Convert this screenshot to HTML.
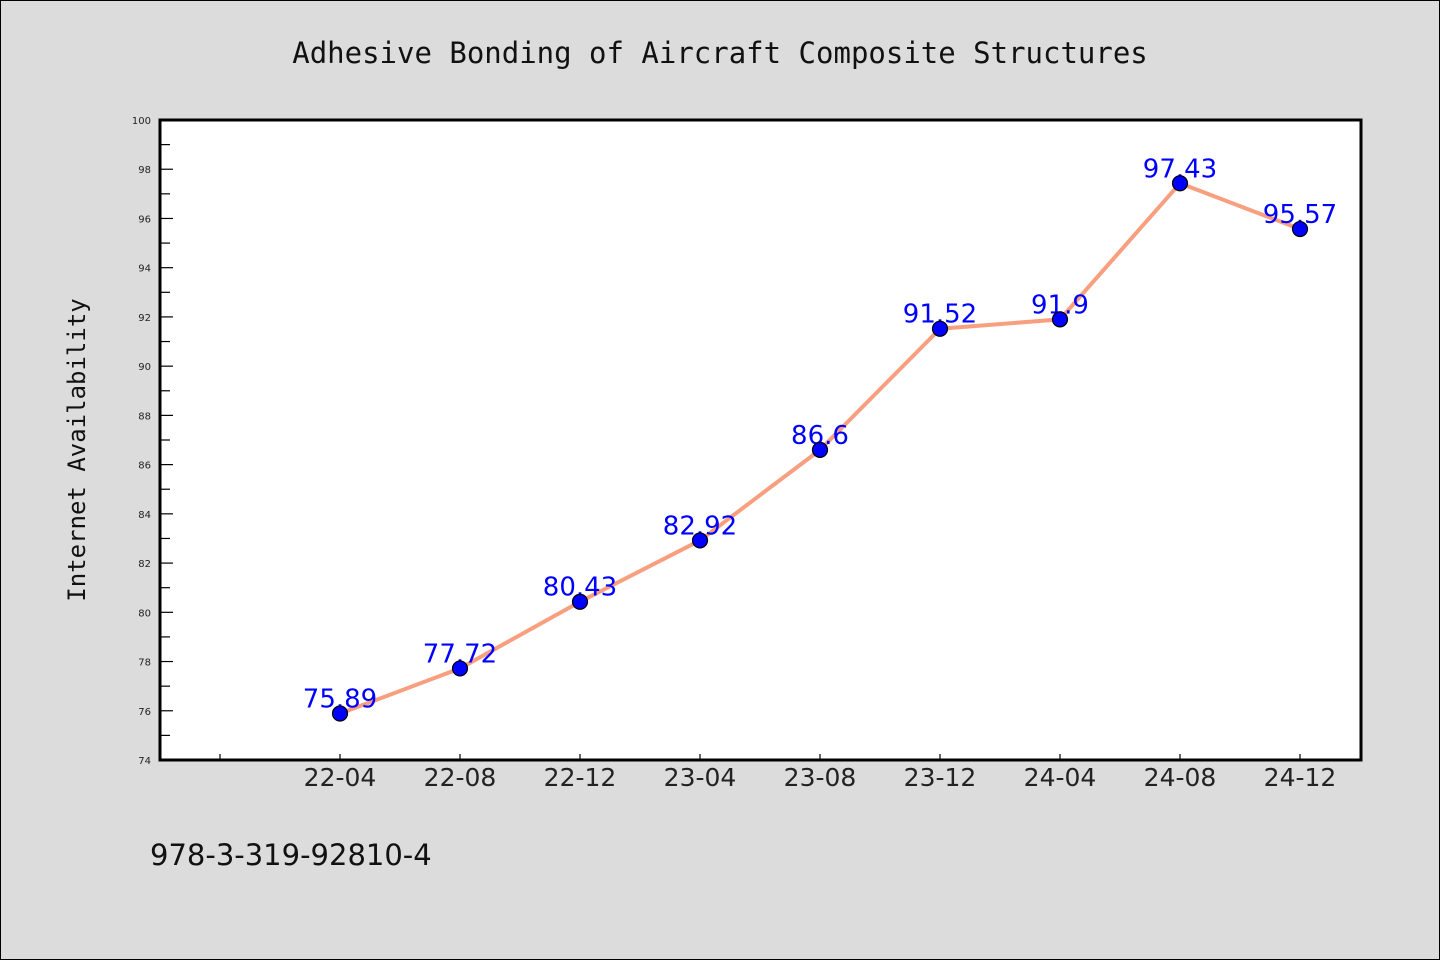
<!DOCTYPE html>
<html><head><meta charset="utf-8"><style>
html,body{margin:0;padding:0;background:#dcdcdc;}
svg{display:block;}
</style></head><body>
<svg width="1440" height="960" viewBox="0 0 1440 960" xmlns="http://www.w3.org/2000/svg">
<rect x="0.5" y="0.5" width="1439" height="959" fill="#dcdcdc" stroke="#000" stroke-width="1"/>
<text x="720" y="63" text-anchor="middle" font-family="'DejaVu Sans Mono','Liberation Mono',monospace" font-size="29" fill="#111">Adhesive Bonding of Aircraft Composite Structures</text>
<rect x="160" y="120" width="1201" height="640" fill="#fff"/>
<g id="yaxis"></g>
<g id="xaxis"></g>
<g id="series"></g>
<rect x="160" y="120" width="1201" height="640" fill="none" stroke="#000" stroke-width="3"/>
<text transform="translate(85,450) rotate(-90)" text-anchor="middle" font-family="'DejaVu Sans Mono','Liberation Mono',monospace" font-size="24" fill="#111">Internet Availability</text>
<text x="150" y="865" font-family="'DejaVu Sans','Liberation Sans',sans-serif" font-size="29" fill="#111">978-3-319-92810-4</text>
</svg>
<script>
const categories = ["22-04","22-08","22-12","23-04","23-08","23-12","24-04","24-08","24-12"];
const values = [75.89,77.72,80.43,82.92,86.6,91.52,91.9,97.43,95.57];
const yTicks = [74,76,78,80,82,84,86,88,90,92,94,96,98,100];
const yMin = 74, yMax = 100;
const NS = "http://www.w3.org/2000/svg";
function y(v){ return 760 - (v - yMin) / (yMax - yMin) * 640; }
function x(i){ return 340 + 120 * i; }
function mk(tag, attrs, parent){ const e=document.createElementNS(NS,tag); for(const k in attrs) e.setAttribute(k,attrs[k]); parent.appendChild(e); return e; }
const ya=document.getElementById('yaxis'), xa=document.getElementById('xaxis'), sg=document.getElementById('series');
yTicks.forEach((t,k)=>{
  const l=mk('line',{x1:160,x2:173,y1:y(t),y2:y(t),stroke:'#000','stroke-width':1.2},ya);
  
  
  const tx=mk('text',{x:151,y:y(t)+4,'text-anchor':'end','font-family':"'DejaVu Sans','Liberation Sans',sans-serif",'font-size':10,fill:'#222'},ya);
  tx.textContent=t;
  
  
  if(k<yTicks.length-1){
    const m=(t+yTicks[k+1])/2;
    const ml=mk('line',{x1:160,x2:170,y1:y(m),y2:y(m),stroke:'#000','stroke-width':1.2},ya);
    
    
  }
});
const t0=mk('line',{x1:x(-1),x2:x(-1),y1:760,y2:754,stroke:'#000','stroke-width':1.2},xa);


categories.forEach((c,i)=>{
  const l=mk('line',{x1:x(i),x2:x(i),y1:760,y2:754,stroke:'#000','stroke-width':1.2},xa);
  
  
  const tx=mk('text',{x:x(i),y:786,'text-anchor':'middle','font-family':"'DejaVu Sans','Liberation Sans',sans-serif",'font-size':25,fill:'#222'},xa);
  tx.textContent=c;
  
  
});
const pts=values.map((v,i)=>x(i)+','+y(v)).join(' ');
const pl=mk('polyline',{points:pts,fill:'none',stroke:'#f89f7f','stroke-width':4,'stroke-linejoin':'round'},sg);


values.forEach((v,i)=>{
  const tx=mk('text',{x:x(i),y:y(v)-6,'text-anchor':'middle','font-family':"'DejaVu Sans','Liberation Sans',sans-serif",'font-size':26,fill:'#0000ff'},sg);
  tx.textContent=String(v);
  
  
});
values.forEach((v,i)=>{
  const c=mk('circle',{cx:x(i),cy:y(v),r:7.5,fill:'#0000ff',stroke:'#000','stroke-width':1.2},sg);
  
  
});
</script>
</body></html>
